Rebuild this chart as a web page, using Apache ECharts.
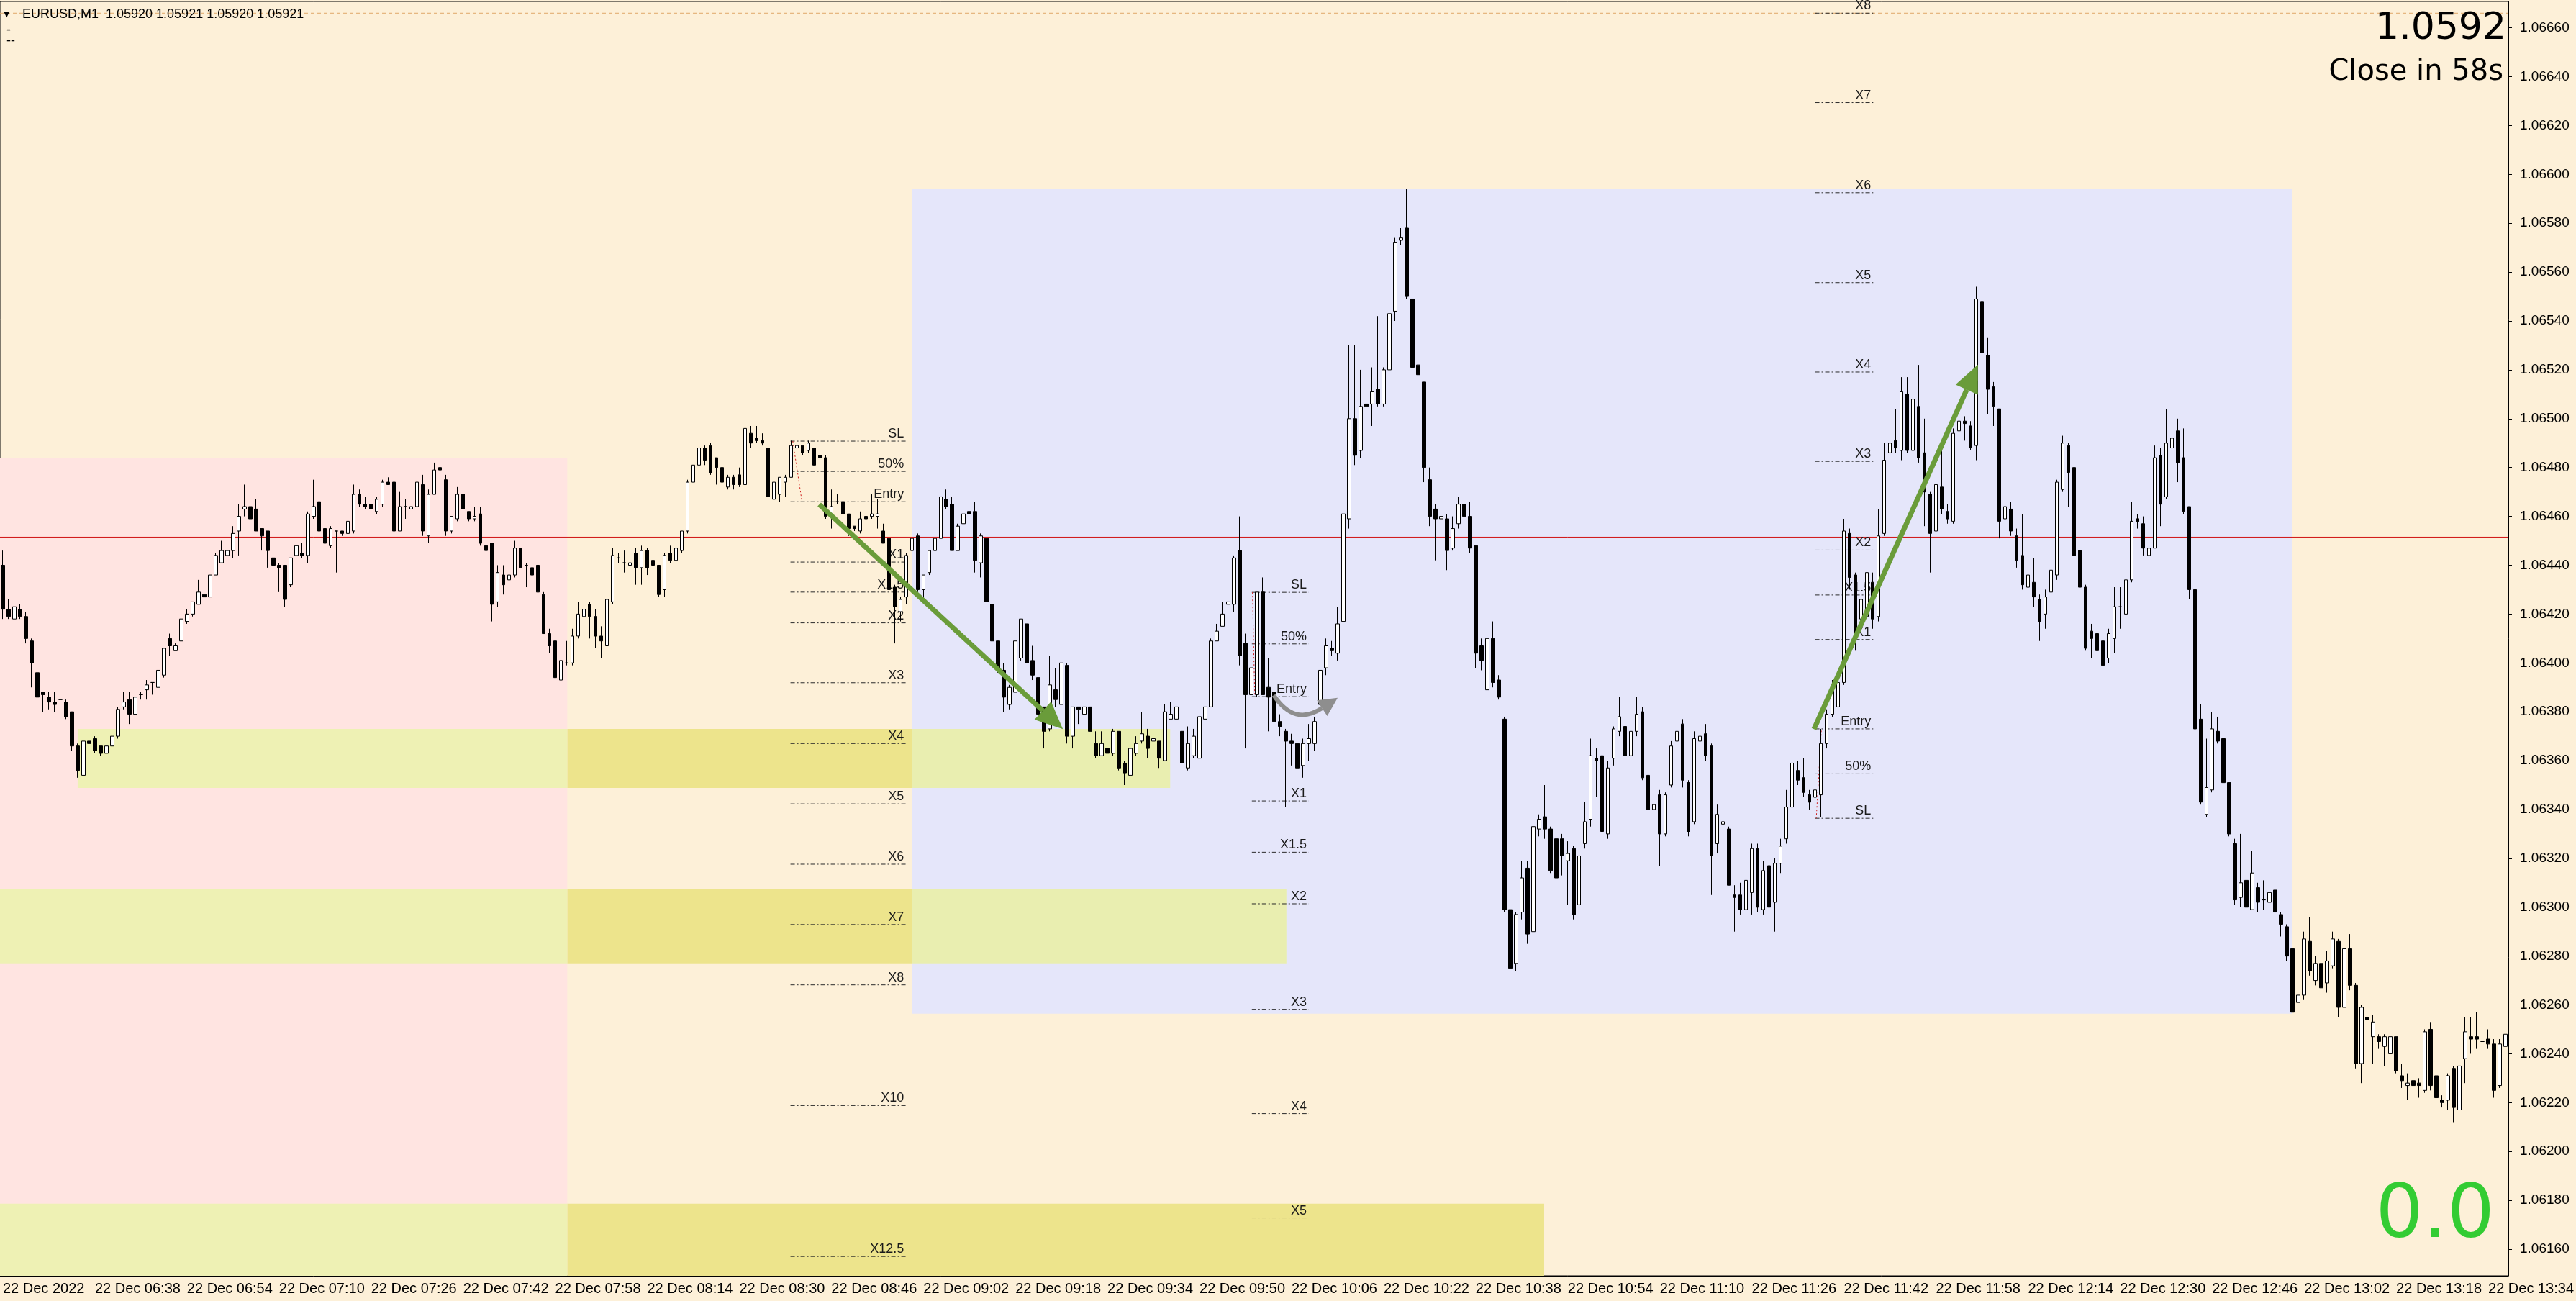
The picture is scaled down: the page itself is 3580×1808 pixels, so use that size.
<!DOCTYPE html>
<html>
<head>
<meta charset="utf-8">
<title>EURUSD,M1</title>
<script src="https://cdn.jsdelivr.net/npm/echarts@6.0.0/dist/echarts.min.js"></script>
<style>
html,body{margin:0;padding:0;background:#fdf0d8;}
#chart{width:3580px;height:1808px;}
</style>
</head>
<body>
<div id="chart"></div>
<script>
// M1 bars from 22 Dec 2022 06:22, in points above 1.06000: [open, high, low, close]
const bars = [
[440,446,418,422],[422,426,418,419],[418,424,417,423],[422,424,418,419],[419,421,408,410],
[409,410,390,400],[396,397,385,386],[388,388,380,387],[386,388,381,384],[384,388,380,383],
[385,386,380,385],[384,385,377,378],[380,380,364,366],[366,367,353,356],[354,369,353,368],
[368,373,366,367],[369,370,363,364],[366,366,362,363],[363,367,362,366],[366,373,365,370],
[370,382,369,381],[382,388,381,384],[385,388,375,379],[379,388,376,386],[387,388,385,387],
[389,393,385,391],[392,392,387,392],[390,397,389,397],[395,406,394,406],[410,412,403,407],
[405,408,405,407],[409,418,408,418],[417,422,416,420],[420,425,419,425],[424,434,424,429],
[428,429,425,427],[427,436,427,436],[436,445,436,444],[441,450,441,446],[444,448,441,446],
[446,456,443,453],[454,465,444,460],[463,473,460,464],[464,469,454,459],[463,467,454,454],
[455,455,446,452],[454,454,439,446],[443,443,431,440],[440,441,429,439],[440,440,423,426],
[432,443,431,443],[444,451,443,448],[445,449,443,444],[444,462,441,461],[460,475,459,464],
[466,476,453,454],[455,455,437,449],[448,456,447,455],[454,454,437,454],[454,454,452,453],
[453,461,449,458],[454,473,453,469],[469,471,464,465],[465,468,463,464],[465,468,463,463],
[462,468,461,467],[465,475,464,474],[474,476,473,473],[474,474,452,454],[454,470,454,464],
[464,467,459,464],[463,464,463,464],[464,477,463,474],[473,477,452,454],[452,471,449,469],
[469,482,469,479],[480,484,478,479],[475,477,452,454],[454,460,453,460],[459,472,458,469],
[469,473,462,463],[462,462,458,459],[459,464,458,460],[461,464,448,449],[448,448,437,446],
[449,449,417,424],[425,440,423,437],[436,440,428,432],[434,437,419,436],[436,450,435,447],
[447,447,439,439],[440,441,431,440],[439,440,434,436],[440,440,429,429],[428,429,412,412],
[412,414,404,407],[409,410,394,394],[393,403,385,401],[400,409,399,400],[400,414,399,411],
[411,425,410,420],[419,424,416,422],[424,425,410,419],[419,422,406,411],[411,415,402,409],
[407,429,407,426],[425,447,424,444],[443,445,441,443],[441,446,437,441],[440,446,431,441],
[445,447,432,439],[439,448,432,446],[446,447,436,439],[442,444,436,440],[440,440,427,428],
[430,445,427,444],[445,448,441,442],[442,447,441,447],[446,454,445,454],[454,475,453,474],
[474,481,474,481],[481,488,480,488],[488,489,481,483],[489,490,477,478],[484,484,473,480],
[480,480,471,474],[472,477,471,476],[476,477,471,473],[477,480,472,473],[473,497,471,496],
[494,497,488,490],[492,497,490,491],[491,494,489,490],[488,488,467,468],[467,474,464,474],
[469,476,466,476],[474,477,468,476],[476,491,476,489],[488,494,484,489],[489,489,485,486],
[487,491,486,490],[488,488,481,481],[485,488,483,484],[484,485,459,460],[461,471,455,464],
[466,469,465,466],[466,469,460,461],[461,461,452,455],[456,456,454,455],[454,462,453,459],
[460,462,454,459],[460,469,459,461],[460,467,455,461],[454,457,449,449],[451,452,429,430],
[431,432,408,423],[421,427,417,426],[427,445,424,444],[446,453,424,451],[452,453,429,430],
[430,436,426,436],[437,446,436,446],[446,453,439,451],[451,468,451,468],[467,471,463,464],
[465,468,446,446],[446,457,446,456],[457,462,456,461],[462,470,441,461],[462,466,437,442],
[441,453,435,452],[451,451,425,425],[424,426,399,409],[409,409,396,397],[397,400,380,386],
[383,391,381,390],[388,409,381,409],[402,418,401,418],[416,416,400,400],[401,407,393,395],
[394,395,379,379],[382,382,365,372],[373,403,372,391],[389,398,382,385],[383,403,383,400],
[399,400,367,370],[370,382,365,382],[382,382,375,381],[379,388,379,382],[382,382,372,372],
[367,372,361,362],[362,372,362,367],[365,372,356,363],[363,373,362,372],[372,372,356,357],
[359,360,350,355],[354,370,354,365],[363,370,362,367],[368,380,367,371],[370,373,361,365],
[368,372,366,369],[368,368,357,361],[360,383,360,380],[377,384,377,379],[377,382,376,382],
[372,373,359,359],[357,374,356,367],[362,373,361,370],[361,383,361,378],[377,386,376,382],
[382,410,382,409],[409,416,409,413],[415,425,415,420],[424,427,422,425],[424,444,421,443],
[446,460,399,403],[408,412,365,387],[387,399,365,398],[387,429,386,429],[429,435,387,387],
[390,402,372,386],[388,391,367,376],[376,379,370,374],[372,373,341,368],[368,371,358,367],
[367,372,352,357],[358,369,353,367],[367,375,360,369],[367,378,364,376],[383,404,382,397],
[398,410,395,407],[406,409,403,405],[404,423,401,416],[417,463,414,461],[459,530,455,500],
[500,530,481,485],[487,520,484,505],[506,512,500,505],[506,521,497,511],[512,542,505,506],
[506,521,505,520],[520,544,519,543],[544,574,540,572],[573,578,571,574],[578,594,549,550],
[549,550,520,521],[522,522,516,518],[515,515,474,480],[475,480,456,460],[463,465,442,459],
[459,461,446,460],[459,461,438,446],[447,460,446,455],[457,468,455,465],[465,469,458,460],
[460,466,445,447],[448,448,398,404],[407,410,397,401],[389,416,365,410],[410,417,390,392],
[393,395,385,386],[377,378,298,299],[299,299,263,275],[277,298,274,297],[298,319,295,312],
[316,319,285,289],[290,338,289,333],[332,338,329,336],[337,350,328,332],[332,333,314,315],
[328,330,302,312],[328,330,313,321],[319,327,301,322],[324,325,295,297],[301,325,300,321],
[326,343,324,335],[336,369,333,362],[361,365,345,360],[362,367,327,331],[330,360,328,357],
[361,374,358,373],[372,386,370,378],[374,386,361,362],[362,380,349,372],[372,386,370,379],
[380,382,352,353],[354,356,331,340],[340,344,338,342],[346,348,317,330],[330,347,329,346],
[350,368,349,366],[368,378,367,372],[375,377,349,352],[351,352,329,331],[335,372,334,369],
[368,375,367,370],[371,375,360,362],[366,367,305,321],[326,342,322,338],[334,338,328,335],
[332,333,309,309],[305,309,290,304],[305,310,297,299],[299,315,297,311],[306,326,297,324],
[324,326,298,300],[299,319,297,315],[317,319,297,300],[302,320,290,318],[318,328,314,325],
[328,348,326,341],[341,361,338,359],[356,360,350,352],[353,361,345,347],[346,348,340,343],
[345,360,342,348],[346,373,337,367],[367,381,365,379],[379,393,378,391],[382,395,380,392],
[392,459,391,454],[453,455,430,435],[436,437,405,410],[418,436,414,426],[419,442,415,437],
[433,437,414,418],[419,463,417,452],[453,490,452,483],
[486,501,481,490],[491,504,486,488],[487,517,483,511],[510,517,486,487],[487,518,486,508],
[505,522,482,484],[486,500,456,470],[469,470,437,453],[454,475,453,473],[472,487,461,463],
[462,465,457,459],[458,496,457,494],[495,504,493,499],[499,501,491,498],[497,499,487,488],
[489,554,483,549],[548,564,525,527],[526,533,502,512],[513,515,497,505],[504,504,451,458],
[459,468,455,464],[463,466,452,454],[452,455,439,442],[444,461,430,432],[431,441,427,436],
[433,443,423,427],[426,428,409,417],[420,430,414,427],[429,440,426,438],[436,475,434,474],
[471,493,470,490],[489,490,464,478],[480,481,439,444],[446,453,428,431],[431,432,405,406],
[413,416,402,410],[412,413,398,405],[409,410,395,399],[402,414,400,412],[410,431,404,423],
[423,431,414,423],[420,436,415,434],[434,466,433,458],[459,461,455,458],[457,460,444,447],
[444,451,439,447],[447,489,447,484],[485,488,456,465],[468,504,467,490],[488,511,483,492],
[495,500,474,482],[484,496,461,462],[464,464,426,430],[430,431,372,373],[377,383,342,343],
[338,369,337,349],[348,380,347,373],[372,378,367,368],[369,370,332,351],[351,351,329,330],
[326,328,301,303],[304,330,300,310],[311,312,299,300],[299,323,299,314],[308,310,298,302],
[303,311,299,303],[302,309,293,306],[307,319,296,298],[297,298,288,293],[292,293,278,280],
[283,284,254,257],[261,270,248,264],[264,290,262,287],[286,296,272,274],[270,280,268,277],
[277,278,259,267],[269,282,265,278],[276,290,275,287],[286,287,255,259],[259,287,258,283],
[283,289,266,268],[268,269,234,236],[236,260,228,259],[255,257,248,254],[247,256,236,253],
[247,248,242,245],[243,248,235,247],[240,248,234,247],[247,247,232,233],[231,236,226,229],
[227,232,221,228],[229,231,224,227],[228,230,222,227],[225,250,224,249],[250,253,225,227],
[231,232,218,222],[221,223,218,220],[221,232,217,231],[234,235,212,218],[217,236,216,235],
[238,255,228,249],[247,255,240,246],[247,257,242,246],[245,250,245,245],[246,250,242,244],
[244,246,222,225],[227,246,226,244],[243,257,242,248]
];

const yTicks = [1.0616,1.0618,1.0620,1.0622,1.0624,1.0626,1.0628,1.0630,1.0632,1.0634,1.0636,1.0638,
  1.0640,1.0642,1.0644,1.0646,1.0648,1.0650,1.0652,1.0654,1.0656,1.0658,1.0660,1.0662,1.0664,1.0666];

// zones: [fromBar, toBar, lowPrice, highPrice]
const pinkZones = [[-2, 98.1, 1.0600, 1.064838]];
const blueZones = [[158.0, 397.9, 1.062564, 1.065941]];
const yellowOnBg = [[98.1, 158.0, 1.063488, 1.063730], [98.1, 158.0, 1.062770, 1.063076], [98.1, 267.9, 1.0600, 1.061786]];
const yellowOnPink = [[13.0, 98.1, 1.063488, 1.063730], [-2, 98.1, 1.062770, 1.063076], [-2, 98.1, 1.0600, 1.061786]];
const yellowOnBlue = [[158.0, 202.9, 1.063488, 1.063730], [158.0, 223.1, 1.062770, 1.063076]];

// level sets: bar span, prices, labels
const fib1Span = [136.9, 157.0];
const fib1Prices = [1.064908,1.064784,1.064660,1.064413,1.064290,1.064164,1.063919,1.063670,1.063423,1.063176,1.062929,1.062682,1.062188,1.061570];
const fib1Labels = ['SL','50%','Entry','X1','X1.5','X2','X3','X4','X5','X6','X7','X8','X10','X12.5'];
const fib2Span = [217.1, 227.0];
const fib2Prices = [1.064289,1.064078,1.063862,1.063435,1.063225,1.063014,1.062582,1.062155,1.061728];
const fib2Labels = ['SL','50%','Entry','X1','X1.5','X2','X3','X4','X5'];
const fib3Span = [315.0, 325.1];
const fib3Prices = [1.063364,1.063546,1.063730,1.064096,1.064278,1.064462,1.064825,1.065191,1.065557,1.065925,1.066294,1.066660];
const fib3Labels = ['SL','50%','Entry','X1','X1.5','X2','X3','X4','X5','X6','X7','X8'];

const redLevel = 1.064515;
const askLevel = 1.066660;
// small red dotted connectors: [bar0, price0, bar1, price1]
const connectors = [[137.3, 1.064908, 138.9, 1.064660], [217.2, 1.064289, 217.6, 1.063862], [315.2, 1.063364, 316.1, 1.063730]];

// arrows: [bar0, price0, bar1, price1]
const greenArrows = [[141.9, 1.064649, 184.25, 1.063729], [314.8, 1.063729, 343.3, 1.065221]];
// curved arrow: start, control, end
const grayArrow = [[220.9, 1.063868, 224.5, 1.063740, 229.3, 1.063815]];

const startMinute = 6 * 60 + 22;
const times = bars.map(function (b, i) {
  const m = startMinute + i;
  return String(Math.floor(m / 60)).padStart(2, '0') + ':' + String(m % 60).padStart(2, '0');
});
function price(p) { return +(1.06 + p / 1e5).toFixed(5); }
const candleData = bars.map(function (b) { return [price(b[0]), price(b[3]), price(b[2]), price(b[1])]; });

const lineList = [];
function addFib(span, prices, labels) {
  prices.forEach(function (p, k) {
    lineList.push({ kind: 'fib', v: [span[0], p, span[1], p], label: labels[k] });
  });
}
lineList.push({ kind: 'ask', v: [-0.5, askLevel, 435.5, askLevel] });
lineList.push({ kind: 'red', v: [-0.5, redLevel, 435.5, redLevel] });
addFib(fib1Span, fib1Prices, fib1Labels);
addFib(fib2Span, fib2Prices, fib2Labels);
addFib(fib3Span, fib3Prices, fib3Labels);
connectors.forEach(function (c) { lineList.push({ kind: 'conn', v: c }); });

const lineStyles = {
  fib: { stroke: '#2a2a2a', lineWidth: 1, lineDash: [6, 3, 2, 3] },
  ask: { stroke: '#e0a868', lineWidth: 1, lineDash: [5, 4] },
  red: { stroke: '#d01010', lineWidth: 1 },
  conn: { stroke: '#d02020', lineWidth: 1, lineDash: [2, 3] }
};

function zoneSeries(data, color) {
  return {
    type: 'custom', xAxisIndex: 1, yAxisIndex: 0, z: 1, silent: true,
    data: data,
    renderItem: function (params, api) {
      const a = api.coord([api.value(0), api.value(3)]);
      const b = api.coord([api.value(1), api.value(2)]);
      const cs = params.coordSys;
      const r = echarts.graphic.clipRectByRect(
        { x: a[0], y: a[1], width: b[0] - a[0], height: b[1] - a[1] },
        { x: cs.x, y: cs.y, width: cs.width, height: cs.height });
      if (!r) return;
      return { type: 'rect', shape: r, style: { fill: color } };
    }
  };
}

const chart = echarts.init(document.getElementById('chart'));
chart.setOption({
  animation: false,
  backgroundColor: '#fdf0d8',
  grid: { left: 0, top: 2, width: 3488, height: 1771, show: true, borderColor: '#000', borderWidth: 1, backgroundColor: 'transparent' },
  xAxis: [{
    type: 'category', data: times, boundaryGap: true,
    axisLine: { onZero: false, lineStyle: { color: '#000', width: 1 } },
    axisTick: { interval: 15, alignWithLabel: true, length: 6, lineStyle: { color: '#000' } },
    axisLabel: {
      interval: 15, align: 'left', margin: 8, color: '#000', fontSize: 20, fontFamily: 'Liberation Sans',
      formatter: function (v, i) { return i === 0 ? '22 Dec 2022' : '22 Dec ' + v; }
    },
    splitLine: { show: false }
  }, {
    type: 'value', min: -0.5, max: 435.5, show: false,
    axisLine: { show: false, onZero: false }, axisTick: { show: false }, axisLabel: { show: false }, splitLine: { show: false }
  }],
  yAxis: {
    type: 'value', position: 'right', min: 1.061491, max: 1.066708,
    splitLine: { show: false },
    axisLine: { show: true, onZero: false, lineStyle: { color: '#000', width: 1 } },
    axisTick: { show: true, length: 5, lineStyle: { color: '#000' }, customValues: yTicks },
    axisLabel: {
      customValues: yTicks, color: '#000', fontSize: 19, fontFamily: 'Liberation Sans', margin: 16,
      formatter: function (v) { return v.toFixed(5); }
    }
  },
  series: [
    zoneSeries(pinkZones, '#ffe4e1'),
    zoneSeries(blueZones, '#e5e6fa'),
    zoneSeries(yellowOnBg, '#ede48c'),
    zoneSeries(yellowOnPink, '#eef1b4'),
    zoneSeries(yellowOnBlue, '#e9eeb0'),
    {
      type: 'custom', xAxisIndex: 1, yAxisIndex: 0, z: 2, silent: true,
      data: lineList.map(function (l) { return l.v; }),
      renderItem: function (params, api) {
        const l = lineList[params.dataIndex];
        const a = api.coord([api.value(0), api.value(1)]);
        const b = api.coord([api.value(2), api.value(3)]);
        const children = [{ type: 'line', shape: { x1: a[0], y1: a[1], x2: b[0], y2: b[1] }, style: lineStyles[l.kind] }];
        if (l.label) {
          children.push({
            type: 'text', x: b[0] - 3, y: b[1] - 1,
            style: { text: l.label, fill: '#1a1a1a', font: '18px "Liberation Sans"', align: 'right', verticalAlign: 'bottom' }
          });
        }
        return { type: 'group', children: children };
      }
    },
    {
      type: 'candlestick', xAxisIndex: 0, yAxisIndex: 0, z: 3,
      data: candleData, barWidth: 5,
      itemStyle: { color: '#ffffff', color0: '#000000', borderColor: '#000000', borderColor0: '#000000', borderWidth: 1 }
    },
    {
      type: 'custom', xAxisIndex: 1, yAxisIndex: 0, z: 4, silent: true,
      data: greenArrows,
      renderItem: function (params, api) {
        const a = api.coord([api.value(0), api.value(1)]);
        const b = api.coord([api.value(2), api.value(3)]);
        const dx = b[0] - a[0], dy = b[1] - a[1], len = Math.sqrt(dx * dx + dy * dy);
        const ux = dx / len, uy = dy / len, L = 38, W = 17;
        const bx = b[0] - ux * L, by = b[1] - uy * L;
        return {
          type: 'group', children: [
            { type: 'line', shape: { x1: a[0], y1: a[1], x2: bx, y2: by }, style: { stroke: '#6a9c3a', lineWidth: 7 } },
            { type: 'polygon', shape: { points: [[b[0], b[1]], [bx - uy * W, by + ux * W], [bx + uy * W, by - ux * W]] }, style: { fill: '#6a9c3a' } }
          ]
        };
      }
    },
    {
      type: 'custom', xAxisIndex: 1, yAxisIndex: 0, z: 4, silent: true,
      data: grayArrow,
      renderItem: function (params, api) {
        const s = api.coord([api.value(0), api.value(1)]);
        const c = api.coord([api.value(2), api.value(3)]);
        const e = api.coord([api.value(4), api.value(5)]);
        const dx = e[0] - c[0], dy = e[1] - c[1], len = Math.sqrt(dx * dx + dy * dy);
        const ux = dx / len, uy = dy / len, L = 26, W = 13;
        const tip = [e[0] + ux * L, e[1] + uy * L];
        return {
          type: 'group', children: [
            { type: 'bezierCurve', shape: { x1: s[0], y1: s[1], cpx1: c[0], cpy1: c[1], x2: e[0], y2: e[1] }, style: { stroke: '#8e8e8e', lineWidth: 6, fill: null } },
            { type: 'polygon', shape: { points: [tip, [e[0] - uy * W, e[1] + ux * W], [e[0] + uy * W, e[1] - ux * W]] }, style: { fill: '#8e8e8e' } }
          ]
        };
      }
    }
  ],
  graphic: [
    { type: 'text', x: 5, y: 20, z: 10, style: { text: '▼', font: '11px "DejaVu Sans"', fill: '#000', verticalAlign: 'middle' } },
    { type: 'text', x: 31, y: 20, z: 10, style: { text: 'EURUSD,M1  1.05920 1.05921 1.05920 1.05921', font: '18px "Liberation Sans"', fill: '#000', verticalAlign: 'middle' } },
    { type: 'text', x: 9, y: 42, z: 10, style: { text: '-', font: '18px "Liberation Sans"', fill: '#000', verticalAlign: 'middle' } },
    { type: 'text', x: 9, y: 57, z: 10, style: { text: '--', font: '18px "Liberation Sans"', fill: '#000', verticalAlign: 'middle' } },
    { type: 'text', x: 3483, y: 40, z: 10, style: { text: '1.0592', font: '52px "DejaVu Sans"', fill: '#000', align: 'right', verticalAlign: 'middle' } },
    { type: 'text', x: 3479, y: 101, z: 10, style: { text: 'Close in 58s', font: '40px "DejaVu Sans"', fill: '#000', align: 'right', verticalAlign: 'middle' } },
    { type: 'text', x: 3467, y: 1692, z: 10, style: { text: '0.0', font: '104px "DejaVu Sans"', fill: '#33cc33', align: 'right', verticalAlign: 'middle' } }
  ]
});
</script>
</body>
</html>
